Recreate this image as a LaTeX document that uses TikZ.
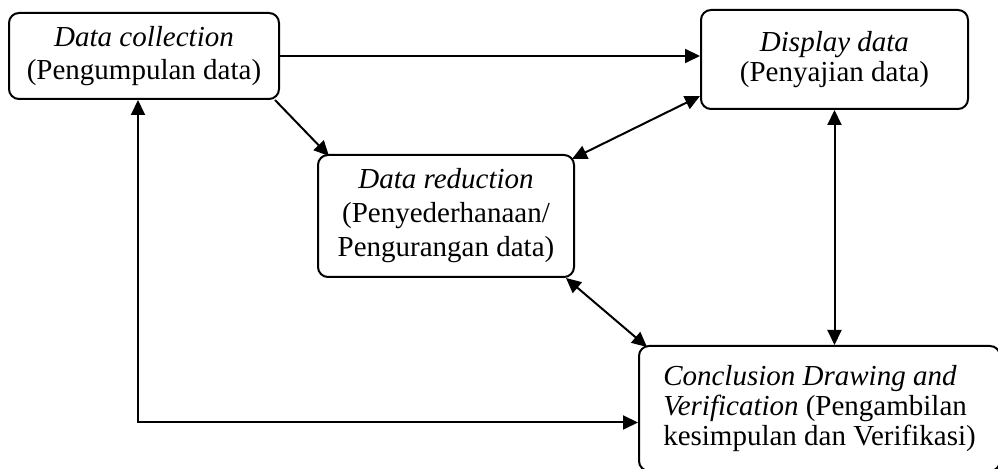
\documentclass[tikz,border=0pt]{standalone}
\usepackage{fontspec}
\setmainfont{Liberation Serif}
\usepackage{tikz}
\usetikzlibrary{arrows.meta,positioning}

\begin{document}
\begin{tikzpicture}[every node/.style={font=\fontsize{14.5}{16.5}\selectfont,align=center},
box/.style={draw,line width=1pt,rounded corners=5pt,inner sep=2pt},
arrow/.style={-{Triangle[length=7.5pt,width=7pt]},line width=1pt},
biarrow/.style={{Triangle[length=7.5pt,width=7pt]}-{Triangle[length=7.5pt,width=7pt]},line width=1pt}]
\useasboundingbox (0pt,0pt) rectangle (499pt,-234.5pt);
\node[box, minimum width=135pt, minimum height=43pt, anchor=north west] (collect) at (4pt,-6pt)
  {\textit{Data collection}\\(Pengumpulan data)};
\node[box, minimum width=133.5pt, minimum height=49.5pt, right=210pt of collect.north east, anchor=north west, yshift=1.5pt,
  font=\fontsize{14.5}{15}\selectfont] (display)
  {\textit{Display data}\\(Penyajian data)};
\node[box, minimum width=128pt, minimum height=61pt, below right=27pt and 18.5pt of collect,
  font=\fontsize{14.5}{17}\selectfont] (reduce)
  {\textit{Data reduction}\\(Penyederhanaan/\\Pengurangan data)};
\node[box, minimum width=180.5pt, minimum height=62.5pt, below right=33.5pt and 31.5pt of reduce,
  align=left, font=\fontsize{14.5}{14.8}\selectfont] (concl)
  {\textit{Conclusion Drawing and}\\\textit{Verification} (Pengambilan\\kesimpulan dan Verifikasi)};
\draw[arrow] (collect.east)--(collect.east -| display.west);
\draw[arrow] ([xshift=-2.5pt]collect.south east)--([shift={(6pt,-1pt)}]reduce.north west);
\draw[biarrow] ([shift={(-1.5pt,-2.5pt)}]reduce.north east)--([yshift=7pt]display.south west);
\draw[biarrow] ([xshift=-4.5pt]reduce.south east)--([shift={(4.5pt,-1pt)}]concl.north west);
\draw[biarrow] (display.south)--(display.south |- concl.north);
\draw[biarrow] ([xshift=-3pt]collect.south) |- ([yshift=-7pt]concl.west);
\end{tikzpicture}
\end{document}
